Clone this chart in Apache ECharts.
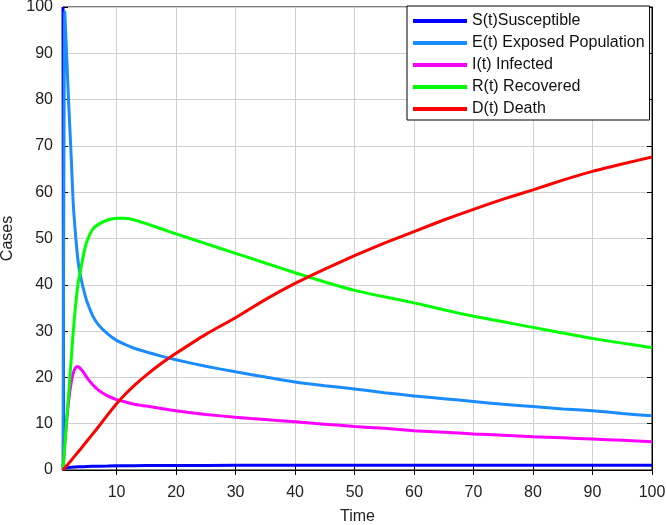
<!DOCTYPE html>
<html>
<head>
<meta charset="utf-8">
<script src="https://cdn.jsdelivr.net/npm/echarts@6/dist/echarts.min.js"></script>
<style>html,body{margin:0;padding:0;background:#fff}#c{width:666px;height:525px}</style>
</head>
<body>
<div id="c"></div>
<script>
// ---- data ----
const time = [1, 1.1, 1.3, 1.6, 2, 2.4, 2.7, 3, 3.3, 3.6, 4, 4.5, 5, 6, 7, 8.5, 10, 11.5, 13, 15, 17.5, 20, 25, 30, 35, 40, 45, 50, 55, 60, 65, 70, 75, 80, 85, 90, 95, 100];
const susceptible = [100, 0.3, 0.4, 0.5, 0.55, 0.6, 0.6, 0.65, 0.65, 0.7, 0.7, 0.72, 0.75, 0.8, 0.82, 0.85, 0.9, 0.92, 0.93, 0.95, 0.96, 0.97, 0.98, 1, 1, 1, 1, 1, 1, 1, 1, 1, 1, 1, 1, 1, 1, 1];
const exposed = [0, 45, 99, 90, 78, 67, 58, 52.5, 48, 44.5, 41.5, 38.8, 36.5, 33.3, 31.3, 29.4, 28.0, 27.1, 26.3, 25.5, 24.6, 23.8, 22.4, 21.2, 20.1, 19.0, 18.2, 17.5, 16.7, 16.0, 15.4, 14.8, 14.2, 13.7, 13.2, 12.8, 12.2, 11.7];
const infected = [0, 2, 6, 10.5, 15.5, 19, 20.8, 21.9, 22.3, 22.3, 21.8, 21.0, 20.0, 18.4, 17.2, 16.0, 15.2, 14.7, 14.2, 13.8, 13.3, 12.8, 12.0, 11.4, 10.9, 10.4, 9.9, 9.4, 9.0, 8.5, 8.15, 7.8, 7.5, 7.2, 6.95, 6.7, 6.4, 6.1];
const recovered = [0, 1.7, 5.2, 10.4, 17.3, 24.3, 29.5, 34, 37.8, 40.8, 43.5, 46.8, 49.3, 52.0, 53.1, 54.0, 54.4, 54.4, 54.0, 53.2, 52.1, 51.0, 48.9, 46.8, 44.7, 42.6, 40.6, 38.8, 37.4, 36.1, 34.6, 33.2, 32.0, 30.8, 29.6, 28.4, 27.4, 26.4];
const death = [0, 0.15, 0.45, 0.9, 1.5, 2.1, 2.6, 3.05, 3.5, 4.0, 4.6, 5.4, 6.2, 7.8, 9.4, 11.9, 14.3, 16.4, 18.3, 20.5, 23.0, 25.2, 29.3, 32.9, 36.8, 40.3, 43.4, 46.3, 49.0, 51.5, 54.0, 56.3, 58.5, 60.5, 62.6, 64.5, 66.1, 67.6];
const xTicks = [10, 20, 30, 40, 50, 60, 70, 80, 90, 100];
const seriesNames = ['S(t)Susceptible', 'E(t) Exposed Population', 'I(t) Infected', 'R(t) Recovered', 'D(t) Death'];
const seriesColors = ['#0000ff', '#1a8cff', '#ff00ff', '#00ff00', '#ff0000'];
const seriesValues = [susceptible, exposed, infected, recovered, death];

const FONT = 'Liberation Sans, Arial, sans-serif';
const chart = echarts.init(document.getElementById('c'), null, {renderer: 'canvas'});

const pairs = vals => time.map((t, i) => [t, vals[i]]);

const tickStyle = {show: true, inside: true, length: 5, lineStyle: {color: '#000', width: 1}};
const option = {
  backgroundColor: '#fff',
  animation: false,
  grid: {left: 63, right: 14, top: 7, bottom: 55, containLabel: false, outerBoundsMode: 'none',
    show: true, borderColor: '#000', borderWidth: 1, backgroundColor: 'transparent'},
  legend: {
    orient: 'vertical', left: 407, top: 6,
    padding: [7, 5, 3, 6], itemGap: 6, itemWidth: 54, itemHeight: 4,
    backgroundColor: '#fff', borderColor: '#000', borderWidth: 1, borderRadius: 0,
    icon: 'rect',
    textStyle: {fontFamily: FONT, fontSize: 16, color: '#111', lineHeight: 16, padding: [0, 0, 0, 0]},
    data: seriesNames
  },
  xAxis: [{
    type: 'value', min: 1, max: 100, position: 'bottom',
    name: 'Time', nameLocation: 'middle', nameGap: 39,
    nameTextStyle: {fontFamily: FONT, fontSize: 16, color: '#222'},
    axisLine: {show: true, lineStyle: {color: '#000', width: 1}},
    axisTick: Object.assign({customValues: xTicks}, tickStyle),
    axisLabel: {customValues: xTicks, fontFamily: FONT, fontSize: 16, color: '#222', margin: 15},
    splitLine: {show: true, lineStyle: {color: '#d0d0d0', width: 1}}
  }, {
    type: 'value', min: 1, max: 100, position: 'top',
    axisLine: {show: true, lineStyle: {color: '#000', width: 1}},
    axisTick: Object.assign({customValues: xTicks}, tickStyle),
    axisLabel: {show: false}, splitLine: {show: false}
  }],
  yAxis: [{
    type: 'value', min: 0, max: 100, interval: 10, position: 'left',
    name: 'Cases', nameLocation: 'middle', nameGap: 46, nameRotate: 90,
    nameTextStyle: {fontFamily: FONT, fontSize: 16, color: '#222'},
    axisLine: {show: true, lineStyle: {color: '#000', width: 1}},
    axisTick: tickStyle,
    axisLabel: {fontFamily: FONT, fontSize: 16, color: '#222', margin: 10},
    splitLine: {show: true, lineStyle: {color: '#d0d0d0', width: 1}}
  }, {
    type: 'value', min: 0, max: 100, interval: 10, position: 'right',
    axisLine: {show: true, lineStyle: {color: '#000', width: 1}},
    axisTick: tickStyle,
    axisLabel: {show: false}, splitLine: {show: false}
  }],
  series: seriesNames.map((name, i) => ({
    name: name, type: 'line', xAxisIndex: 0, yAxisIndex: 0,
    data: pairs(seriesValues[i]),
    showSymbol: false, symbol: 'none',
    smooth: i === 0 ? false : 0.2,
    lineStyle: {color: seriesColors[i], width: 3},
    itemStyle: {color: seriesColors[i]},
    z: 2 + i
  }))
};
chart.setOption(option);
</script>
</body>
</html>
